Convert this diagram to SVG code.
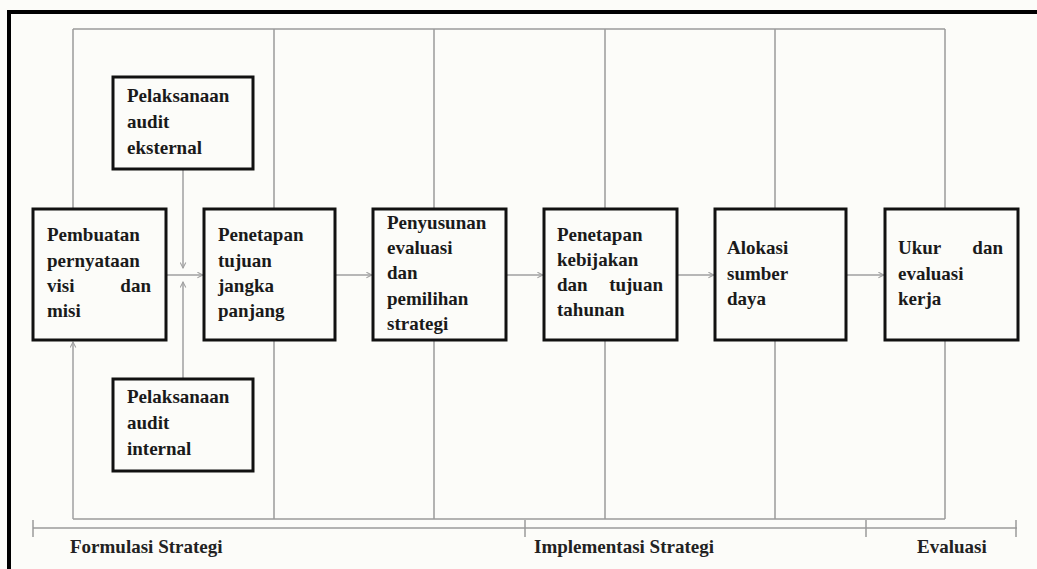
<svg xmlns="http://www.w3.org/2000/svg" width="1037" height="569" viewBox="0 0 1037 569">
<style>
.box{fill:none;stroke:#111;stroke-width:3}
.t{font-family:"Liberation Serif","Times New Roman",serif;font-size:19px;font-weight:bold;fill:#1a1a1a}
.ln{stroke:#9a9a9a;stroke-width:1.5;fill:none}
.ar{stroke:#a0a0a0;stroke-width:1.5;fill:none;marker-end:url(#ah)}
.lab{font-family:"Liberation Serif","Times New Roman",serif;font-size:19px;font-weight:bold;fill:#222}
</style>
<defs>
<marker id="ah" viewBox="0 0 10 10" refX="9" refY="5" markerWidth="7" markerHeight="7" orient="auto" markerUnits="userSpaceOnUse">
<path d="M1,1 L9,5 L1,9" fill="none" stroke="#a0a0a0" stroke-width="1.5"/>
</marker>
</defs>
<rect width="1037" height="569" fill="#fcfcf9"/>
<path d="M9,569 V12 H1037" fill="none" stroke="#000" stroke-width="4"/>
<g id="connectors">
<path class="ln" d="M73,29 H945 M73,519 H945"/>
<path class="ln" d="M73,29 V209 M274,29 V209 M434,29 V209 M605,29 V209 M775,29 V209 M945,29 V209"/>
<path class="ln" d="M274,340 V519 M434,340 V519 M605,340 V519 M775,340 V519 M945,340 V519"/>
<path class="ar" d="M73,519 V342"/>
<path class="ar" d="M183,169 V268"/>
<path class="ar" d="M183,379 V282"/>
<path class="ar" d="M166,275 H203"/>
<path class="ar" d="M335,275 H372"/>
<path class="ar" d="M506,275 H543"/>
<path class="ar" d="M677,275 H714"/>
<path class="ar" d="M846,275 H884"/>
</g>
<g id="axis">
<path class="ln" d="M33,528 H1017 M33,520 V537 M525,520 V537 M866,520 V537 M1016,520 V537"/>
<text class="lab" x="70" y="553">Formulasi Strategi</text>
<text class="lab" x="534" y="553">Implementasi Strategi</text>
<text class="lab" x="917" y="553">Evaluasi</text>
</g>
<g id="n1">
<rect class="box" x="33" y="209" width="133" height="131"/>
<text class="t" x="47" y="241">Pembuatan</text>
<text class="t" x="47" y="267">pernyataan</text>
<text class="t" x="47" y="292">visi</text><text class="t" x="151" y="292" text-anchor="end">dan</text>
<text class="t" x="47" y="317">misi</text>
</g>
<g id="n_eks">
<rect class="box" x="113" y="77" width="140" height="92"/>
<text class="t" x="127" y="102">Pelaksanaan</text>
<text class="t" x="127" y="128">audit</text>
<text class="t" x="127" y="154">eksternal</text>
</g>
<g id="n_int">
<rect class="box" x="113" y="379" width="140" height="92"/>
<text class="t" x="127" y="403">Pelaksanaan</text>
<text class="t" x="127" y="429">audit</text>
<text class="t" x="127" y="455">internal</text>
</g>
<g id="n2">
<rect class="box" x="204" y="209" width="131" height="131"/>
<text class="t" x="218" y="241">Penetapan</text>
<text class="t" x="218" y="267">tujuan</text>
<text class="t" x="218" y="292">jangka</text>
<text class="t" x="218" y="317">panjang</text>
</g>
<g id="n3">
<rect class="box" x="373" y="209" width="133" height="131"/>
<text class="t" x="387" y="229">Penyusunan</text>
<text class="t" x="387" y="254">evaluasi</text>
<text class="t" x="387" y="279">dan</text>
<text class="t" x="387" y="305">pemilihan</text>
<text class="t" x="387" y="330">strategi</text>
</g>
<g id="n4">
<rect class="box" x="544" y="209" width="133" height="131"/>
<text class="t" x="557" y="241">Penetapan</text>
<text class="t" x="557" y="266">kebijakan</text>
<text class="t" x="557" y="291">dan</text><text class="t" x="663" y="291" text-anchor="end">tujuan</text>
<text class="t" x="557" y="316">tahunan</text>
</g>
<g id="n5">
<rect class="box" x="715" y="209" width="131" height="131"/>
<text class="t" x="727" y="254">Alokasi</text>
<text class="t" x="727" y="280">sumber</text>
<text class="t" x="727" y="305">daya</text>
</g>
<g id="n6">
<rect class="box" x="885" y="209" width="133" height="131"/>
<text class="t" x="898" y="254">Ukur</text><text class="t" x="1003" y="254" text-anchor="end">dan</text>
<text class="t" x="898" y="280">evaluasi</text>
<text class="t" x="898" y="305">kerja</text>
</g>
</svg>
